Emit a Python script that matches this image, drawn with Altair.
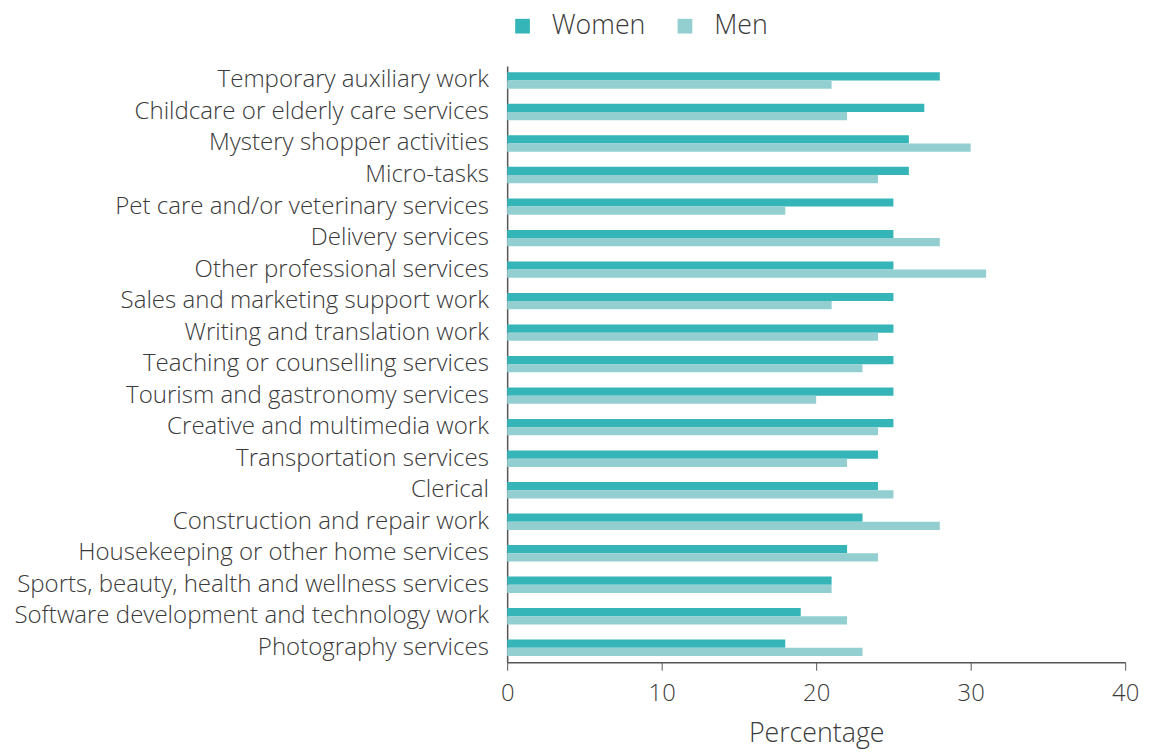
import altair as alt
import pandas as pd

categories = [
    "Temporary auxiliary work",
    "Childcare or elderly care services",
    "Mystery shopper activities",
    "Micro-tasks",
    "Pet care and/or veterinary services",
    "Delivery services",
    "Other professional services",
    "Sales and marketing support work",
    "Writing and translation work",
    "Teaching or counselling services",
    "Tourism and gastronomy services",
    "Creative and multimedia work",
    "Transportation services",
    "Clerical",
    "Construction and repair work",
    "Housekeeping or other home services",
    "Sports, beauty, health and wellness services",
    "Software development and technology work",
    "Photography services",
]
women = [28, 27, 26, 26, 25, 25, 25, 25, 25, 25, 25, 25, 24, 24, 23, 22, 21, 19, 18]
men = [21, 22, 30, 24, 18, 28, 31, 21, 24, 23, 20, 24, 22, 25, 28, 24, 21, 22, 23]
series = ["Women", "Men"]
colors = ["#36b5b8", "#93cfd1"]

rows = []
for c, w, m in zip(categories, women, men):
    rows.append({"Category": c, "Gender": "Women", "Value": w})
    rows.append({"Category": c, "Gender": "Men", "Value": m})
df = pd.DataFrame(rows)

font = "Open Sans"
tc = "#3a3a3a"

chart = alt.Chart(df).mark_bar().encode(
    y=alt.Y("Category:N", sort=categories,
            scale=alt.Scale(paddingInner=0.48, paddingOuter=0.2),
            axis=alt.Axis(title=None, ticks=False, labelFontSize=24.3, labelColor=tc,
                          labelFont=font, labelFontWeight=300, labelPadding=19,
                          domainColor="#555555", domainWidth=1.5, labelLimit=700)),
    yOffset=alt.YOffset("Gender:N", sort=series),
    x=alt.X("Value:Q", scale=alt.Scale(domain=[0, 40]),
            axis=alt.Axis(title="Percentage", values=[0, 10, 20, 30, 40], grid=False,
                          labelFlush=False,
                          labelFontSize=24, labelColor=tc, labelFont=font, labelFontWeight=300,
                          titleFontSize=27, titleColor=tc, titleFont=font, titleFontWeight=300,
                          titlePadding=15, labelPadding=12, tickSize=8, tickColor="#555555",
                          domainColor="#555555", domainWidth=1.5)),
    color=alt.Color("Gender:N", sort=series,
                    scale=alt.Scale(domain=series, range=colors),
                    legend=alt.Legend(title=None, orient="none", legendX=2, legendY=-54,
                                      direction="horizontal", symbolType="square", symbolSize=220,
                                      symbolStrokeWidth=0, labelFontSize=27, labelFont=font,
                                      labelFontWeight=300, labelColor=tc, columnPadding=26,
                                      labelOffset=16, labelLimit=300)),
).properties(width=624, height=602, background="white",
             padding={"left": 5, "top": 1, "right": 5, "bottom": 0}
).configure_view(strokeWidth=0)

chart.save("out.html", embed_options={"renderer": "svg", "actions": False})
